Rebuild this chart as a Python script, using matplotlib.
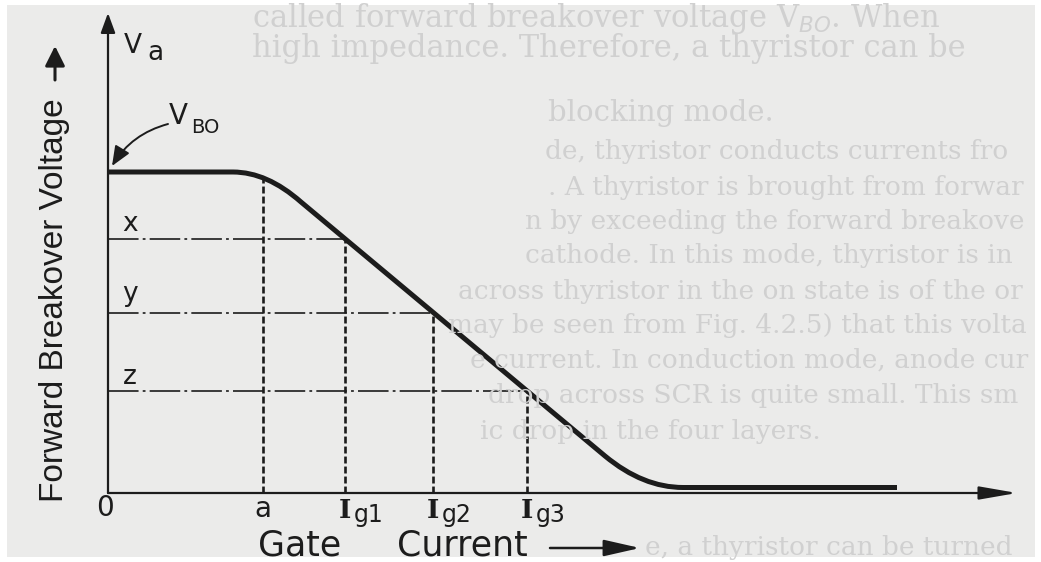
import matplotlib
matplotlib.use('Agg')
import matplotlib.pyplot as plt
from matplotlib.path import Path
from matplotlib.patches import PathPatch, Rectangle

plt.rcParams['lines.scale_dashes'] = False

# DATA (gate current / forward breakover voltage, arbitrary units)
gate_labels = ['a', 'g1', 'g2', 'g3']
gate_pos = [1.55, 2.37, 3.25, 4.19]
level_labels = ['x', 'y', 'z']
level_vals = [2.54, 1.80, 1.02]
v_bo = 3.21
a_top = 3.14          # where the dashed line at 'a' meets the curve
# breakover curve: knots + bezier control points
curve_i = [0.0, 1.25, 1.59, 1.93, 4.97, 5.35, 5.75, 7.89]
curve_v = [v_bo, v_bo, v_bo, 2.91, 0.37, 0.055, 0.055, 0.055]
curve_codes = [Path.MOVETO, Path.LINETO, Path.CURVE3, Path.CURVE3,
               Path.LINETO, Path.CURVE3, Path.CURVE3, Path.LINETO]
x_axis_end = 9.09
y_axis_end = 4.80

# faint text showing through from the page (only the visible part)
bleed_lines = [
    (252, 18, 22, "called forward breakover voltage V$_{BO}$. When"),
    (252, 48, 22, "high impedance. Therefore, a thyristor can be"),
    (548, 113, 21, "blocking mode."),
    (545, 152, 19, "de, thyristor conducts currents from anode"),
    (548, 188, 19, ". A thyristor is brought from forward blocking"),
    (525, 222, 19, "n by exceeding the forward breakover voltage"),
    (525, 256, 19, "cathode. In this mode, thyristor is in on state"),
    (458, 292, 19, "across thyristor in the on state is of the order"),
    (448, 326, 19, "may be seen from Fig. 4.2.5) that this voltage"),
    (470, 360, 19, "e current. In conduction mode, anode current"),
    (488, 396, 19, "drop across SCR is quite small. This small"),
    (480, 432, 19, "ic drop in the four layers."),
    (645, 548, 19, "e, a thyristor can be turned on by any one of"),
]

INK = '#1c1c1c'
BG = '#ebebea'
W, H = 1041, 562


def P(px, py):
    # pixel position of the scan -> data units
    return (px - 108) / 100.0, (493 - py) / 100.0


fig = plt.figure(figsize=(10.41, 5.62), dpi=100, facecolor='white')
fig.add_artist(Rectangle((7 / W, 5 / H), 1028 / W, 552 / H, transform=fig.transFigure,
                         facecolor=BG, edgecolor='none', zorder=0))
bleed = []
for px, py, fs, txt in bleed_lines:
    bleed.append(fig.text(px / W, 1 - py / H, txt, fontsize=fs, family='DejaVu Serif',
                          color='#d0d0d0', ha='left', va='center', zorder=0.5))

ax = fig.add_axes([0, 0, 1, 1])
ax.patch.set_visible(False)
ax.set_xlim(-1.08, 9.33)
ax.set_ylim(-0.69, 4.93)
ax.axis('off')

# axes with arrow heads
ax.annotate('', xy=(x_axis_end, 0), xytext=(0, 0),
            arrowprops=dict(arrowstyle='-|>,head_length=1.15,head_width=0.2',
                            mutation_scale=20, lw=1.6, color=INK, shrinkA=0, shrinkB=0))
ax.annotate('', xy=(0, y_axis_end), xytext=(0, 0),
            arrowprops=dict(arrowstyle='-|>,head_length=0.6,head_width=0.22',
                            mutation_scale=20, lw=1.6, color=INK, shrinkA=0, shrinkB=0))

# dashed verticals and dash-dot horizontals
tops = [a_top] + level_vals
for g, t in zip(gate_pos, tops):
    ax.plot([g, g], [0, t], color=INK, lw=1.9, ls=(0, (5, 2.2)), solid_capstyle='butt')
for i, lv in enumerate(level_vals):
    ax.plot([0, gate_pos[i + 1]], [lv, lv], color=INK, lw=1.2, ls=(0, (22, 3, 2, 3)))

# the characteristic
curve = Path(list(zip(curve_i, curve_v)), curve_codes)
ax.add_patch(PathPatch(curve, fill=False, lw=3.6, edgecolor=INK,
                       capstyle='butt', joinstyle='round', zorder=3))

# tick labels
ax.text(*P(105, 508), '0', fontsize=20, color=INK, ha='center', va='center')
ax.text(gate_pos[0], P(0, 509)[1], gate_labels[0], fontsize=20, color=INK,
        ha='center', va='center')
for g, lab in zip(gate_pos[1:], gate_labels[1:]):
    ax.text(g, P(0, 511)[1], 'I', fontsize=19, family='DejaVu Serif', weight='bold',
            color=INK, ha='center', va='center')
    ax.text(g + 0.09, P(0, 515)[1], lab, fontsize=17, color=INK, ha='left', va='center')

# level labels
for lab, py in zip(level_labels, [224, 294, 377]):
    ax.text(*P(130, py), lab, fontsize=19, color=INK, ha='center', va='center')

# Va and V_BO
ax.text(*P(133, 46), 'V', fontsize=19, color=INK, ha='center', va='center')
ax.text(*P(155, 53), 'a', fontsize=19, color=INK, ha='center', va='center')
ax.text(*P(178, 116), 'V', fontsize=20, color=INK, ha='center', va='center')
ax.text(*P(191, 128), 'BO', fontsize=14, color=INK, ha='left', va='center')
ax.annotate('', xy=P(112, 166), xytext=P(168, 124),
            arrowprops=dict(arrowstyle='-|>,head_length=0.6,head_width=0.25',
                            mutation_scale=20, lw=1.4, color=INK,
                            connectionstyle='arc3,rad=0.2', shrinkA=0, shrinkB=0))

# axis titles
ax.text(*P(55, 300), 'Forward Breakover Voltage', fontsize=24, family='Liberation Sans',
        rotation=90, color=INK, ha='center', va='center')
ax.annotate('', xy=P(55, 46), xytext=P(55, 80),
            arrowprops=dict(arrowstyle='-|>,head_length=0.6,head_width=0.3',
                            mutation_scale=20, lw=2.2, color=INK, shrinkA=0, shrinkB=0))
ax.text(*P(300, 546), 'Gate', fontsize=25, color=INK, ha='center', va='center')
ax.text(*P(462, 546), 'Current', fontsize=25, color=INK, ha='center', va='center')
ax.annotate('', xy=P(640, 548), xytext=P(550, 548),
            arrowprops=dict(arrowstyle='-|>,head_length=1.1,head_width=0.25',
                            mutation_scale=20, lw=1.8, color=INK, shrinkA=0, shrinkB=0))

# the show-through lines run off the page edge: keep only what fits
renderer = fig.canvas.get_renderer()
for t in bleed:
    while '$' not in t.get_text() and t.get_window_extent(renderer).x1 > W - 8:
        t.set_text(t.get_text()[:-1].rstrip())

fig.savefig('out.png', dpi=100, facecolor='white')
